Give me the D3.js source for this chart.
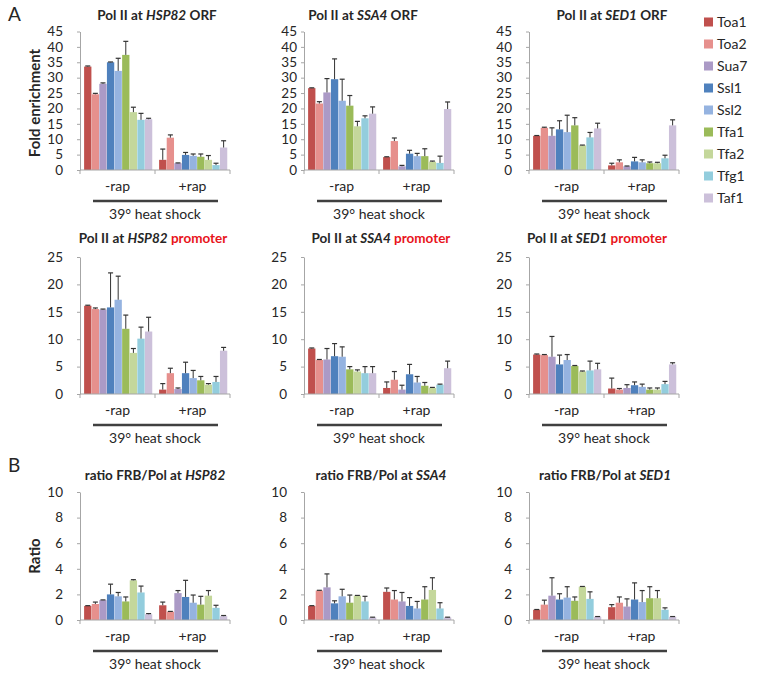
<!doctype html>
<html lang="en">
<head>
<meta charset="utf-8">
<script src="https://d3js.org/d3.v7.min.js"></script>
<style>
    html, body { margin: 0; padding: 0; background: #fff; }
    svg text { font-family: Lato, "Open Sans", sans-serif; fill: #262626; }
    .tick text { font-size: 13.5px; }
    .axis path, .axis line { stroke: #a6a6a6; }
</style>
</head>
<body>
<svg id="svg" width="773" height="677"></svg>
<script>
    var series = ["Toa1", "Toa2", "Sua7", "Ssl1", "Ssl2", "Tfa1", "Tfa2", "Tfg1", "Taf1"];
    var colors = ["#c0504d", "#e6908d", "#ab9ac6", "#4f81bd", "#95b3e0", "#9bbb59", "#c4d79b", "#93cddd", "#ccc0da"];
    var groups = ["-rap", "+rap"];

    // Pol II at ORF, fold enrichment [-rap, +rap]
    var hsp82Orf = [[33.6, 24.6, 28.0, 35.0, 32.2, 37.4, 18.8, 16.3, 16.5], [3.3, 10.5, 2.2, 4.9, 4.6, 4.3, 3.3, 1.6, 7.3]];
    var hsp82OrfErr = [[0.2, 0.3, 0.3, 0.1, 4.1, 4.4, 1.6, 2.1, 0.3], [3.5, 0.9, 0.1, 0.8, 0.6, 0.9, 1.4, 0.6, 2.2]];
    var ssa4Orf = [[26.6, 21.6, 25.2, 29.5, 22.5, 20.9, 14.2, 16.8, 18.3], [4.2, 9.4, 1.2, 5.3, 4.5, 4.5, 2.7, 2.3, 19.8]];
    var ssa4OrfErr = [[0.1, 0.6, 4.5, 6.6, 7.0, 3.3, 1.6, 0.8, 2.2], [0.1, 1.0, 0.3, 1.1, 0.9, 2.4, 0.2, 2.2, 2.3]];
    var sed1Orf = [[11.1, 13.7, 11.1, 13.2, 12.3, 14.5, 8.0, 10.6, 13.5], [1.5, 2.5, 1.2, 2.8, 2.5, 2.2, 2.2, 3.8, 14.5]];
    var sed1OrfErr = [[0.1, 0.2, 2.6, 2.8, 5.5, 2.5, 0.1, 1.6, 1.7], [0.7, 0.8, 0.1, 1.3, 0.8, 0.4, 0.3, 1.0, 1.8]];

    // Pol II at promoter
    var hsp82Pro = [[16.1, 15.5, 15.4, 15.8, 17.2, 11.9, 7.5, 10.1, 11.4], [0.8, 3.8, 0.9, 3.8, 2.9, 2.5, 1.7, 2.2, 7.9]];
    var hsp82ProErr = [[0.1, 0.2, 0.1, 6.3, 4.3, 2.5, 0.8, 2.1, 2.6], [1.1, 0.9, 0.2, 2.0, 1.4, 0.7, 0.2, 1.0, 0.6]];
    var ssa4Pro = [[8.3, 6.2, 6.3, 6.9, 6.8, 4.5, 4.1, 3.8, 3.8], [1.1, 2.6, 0.8, 3.6, 2.1, 1.5, 1.1, 1.7, 4.7]];
    var ssa4ProErr = [[0.1, 0.1, 2.0, 2.3, 1.8, 0.5, 0.3, 1.2, 1.2], [1.1, 1.5, 0.8, 1.8, 1.1, 0.6, 0.1, 0.1, 1.3]];
    var sed1Pro = [[7.2, 7.1, 6.8, 5.4, 6.2, 5.1, 4.1, 4.3, 4.5], [1.0, 0.8, 1.1, 1.6, 1.3, 0.8, 0.8, 1.8, 5.4]];
    var sed1ProErr = [[0.1, 0.1, 3.7, 1.7, 1.0, 0.1, 0.1, 1.7, 1.1], [1.9, 0.2, 0.6, 0.6, 0.5, 0.3, 0.3, 0.5, 0.3]];

    // ratio FRB/Pol
    var hsp82Ratio = [[1.1, 1.25, 1.55, 2.0, 1.85, 1.45, 3.1, 2.15, 0.45], [1.15, 0.65, 2.1, 1.8, 1.35, 1.2, 1.9, 0.95, 0.3]];
    var hsp82RatioErr = [[0.02, 0.15, 0.02, 0.8, 0.3, 0.35, 0.05, 0.5, 0.05], [0.25, 0.02, 0.2, 1.3, 0.6, 0.65, 0.4, 0.2, 0.05]];
    var ssa4Ratio = [[1.1, 2.3, 2.55, 1.3, 1.85, 1.35, 1.9, 1.45, 0.2], [2.2, 1.6, 1.45, 1.1, 0.9, 1.6, 2.35, 0.9, 0.2]];
    var ssa4RatioErr = [[0.02, 0.02, 1.05, 0.2, 0.55, 0.6, 0.02, 0.4, 0.02], [0.3, 0.7, 0.7, 0.65, 0.55, 1.0, 0.95, 0.45, 0.02]];
    var sed1Ratio = [[0.8, 1.2, 1.9, 1.6, 1.75, 1.5, 2.6, 1.65, 0.25], [1.0, 1.35, 1.05, 1.6, 1.4, 1.7, 1.7, 0.8, 0.25]];
    var sed1RatioErr = [[0.02, 0.35, 1.4, 0.45, 0.85, 0.3, 0.02, 0.55, 0.02], [0.2, 0.45, 0.6, 1.3, 0.9, 0.9, 0.6, 0.15, 0.02]];

    var panels = [
        {pre: "Pol II at ", gene: "HSP82", post: " ORF", vals: hsp82Orf, errs: hsp82OrfErr, max: 45, step: 5, x0: 80, zero: 170, top: 31.5, ty: 20, tx: 157, pad: 14},
        {pre: "Pol II at ", gene: "SSA4", post: " ORF", vals: ssa4Orf, errs: ssa4OrfErr, max: 45, step: 5, x0: 304, zero: 170, top: 31.5, ty: 20, tx: 363, pad: 4},
        {pre: "Pol II at ", gene: "SED1", post: " ORF", vals: sed1Orf, errs: sed1OrfErr, max: 45, step: 5, x0: 529, zero: 170, top: 31.5, ty: 20, tx: 612, pad: 14},
        {pre: "Pol II at ", gene: "HSP82", red: " promoter", vals: hsp82Pro, errs: hsp82ProErr, max: 25, step: 5, x0: 80, zero: 394, top: 257, ty: 243, tx: 153, pad: 14},
        {pre: "Pol II at ", gene: "SSA4", red: " promoter", vals: ssa4Pro, errs: ssa4ProErr, max: 25, step: 5, x0: 304, zero: 394, top: 257, ty: 243, tx: 381, pad: 14},
        {pre: "Pol II at ", gene: "SED1", red: " promoter", vals: sed1Pro, errs: sed1ProErr, max: 25, step: 5, x0: 529, zero: 394, top: 257, ty: 243, tx: 597, pad: 14},
        {pre: "ratio FRB/Pol at ", gene: "HSP82", vals: hsp82Ratio, errs: hsp82RatioErr, max: 10, step: 2, x0: 80, zero: 620, top: 492, ty: 480, tx: 155, pad: 14},
        {pre: "ratio FRB/Pol at ", gene: "SSA4", vals: ssa4Ratio, errs: ssa4RatioErr, max: 10, step: 2, x0: 304, zero: 620, top: 492, ty: 480, tx: 381, pad: 14},
        {pre: "ratio FRB/Pol at ", gene: "SED1", vals: sed1Ratio, errs: sed1RatioErr, max: 10, step: 2, x0: 529, zero: 620, top: 492, ty: 480, tx: 605, pad: 14}
    ];

    var svg = d3.select("#svg");
    var plotWidth = 150;

    var drawPanel = function (p) {
        var g = svg.append("g");
        var y = d3.scaleLinear().domain([0, p.max]).range([p.zero, p.top]);
        var gx = d3.scaleBand().domain(groups).range([p.x0, p.x0 + plotWidth]);
        var bx = d3.scaleBand().domain(series).range([0, gx.bandwidth()])
            .paddingInner(0.04).paddingOuter(0.45).align(0.6);

        // y axis
        g.append("g")
            .attr("class", "axis")
            .attr("transform", "translate(" + p.x0 + ",0)")
            .call(d3.axisLeft(y).tickValues(d3.range(0, p.max + 0.1, p.step))
                .tickSize(3).tickSizeOuter(0).tickPadding(p.pad));

        // bars
        groups.forEach(function (grp, gi) {
            var gg = g.append("g").attr("transform", "translate(" + gx(grp) + ",0)");
            gg.selectAll("rect")
                .data(p.vals[gi])
                .enter().append("rect")
                .attr("x", function (d, i) { return bx(series[i]); })
                .attr("y", function (d) { return y(d); })
                .attr("width", bx.bandwidth())
                .attr("height", function (d) { return y(0) - y(d); })
                .attr("fill", function (d, i) { return colors[i]; });

            // error bars, upper only
            p.errs[gi].forEach(function (e, i) {
                var cx = bx(series[i]) + bx.bandwidth() / 2;
                var v = p.vals[gi][i];
                gg.append("line")
                    .attr("x1", cx).attr("x2", cx)
                    .attr("y1", y(v)).attr("y2", y(v + e))
                    .attr("stroke", "#333").attr("stroke-width", 1);
                gg.append("line")
                    .attr("x1", cx - 2.5).attr("x2", cx + 2.5)
                    .attr("y1", y(v + e)).attr("y2", y(v + e))
                    .attr("stroke", "#333").attr("stroke-width", 1.2);
            });
        });

        // x axis with ticks between groups
        var xa = g.append("g").attr("class", "axis");
        xa.append("line")
            .attr("x1", p.x0).attr("x2", p.x0 + plotWidth)
            .attr("y1", y(0)).attr("y2", y(0));
        [p.x0, gx("+rap"), p.x0 + plotWidth].forEach(function (t) {
            xa.append("line").attr("x1", t).attr("x2", t)
                .attr("y1", y(0)).attr("y2", y(0) + 4);
        });

        groups.forEach(function (grp) {
            g.append("text")
                .attr("x", gx(grp) + gx.bandwidth() / 2)
                .attr("y", y(0) + 21)
                .attr("text-anchor", "middle")
                .style("font-size", "14px")
                .text(grp);
        });

        g.append("line")
            .attr("x1", p.x0 + 13).attr("x2", p.x0 + 138)
            .attr("y1", y(0) + 31).attr("y2", y(0) + 31)
            .attr("stroke", "#404040").attr("stroke-width", 2.5);

        g.append("text")
            .attr("x", p.x0 + plotWidth / 2)
            .attr("y", y(0) + 49)
            .attr("text-anchor", "middle")
            .style("font-size", "14px")
            .text("39\u00b0 heat shock");

        // title
        var t = g.append("text")
            .attr("x", p.tx).attr("y", p.ty)
            .attr("text-anchor", "middle")
            .style("font-size", "13.5px")
            .style("font-weight", "bold");
        t.append("tspan").text(p.pre);
        t.append("tspan").style("font-style", "italic").text(p.gene);
        if (p.post) t.append("tspan").text(p.post);
        if (p.red) t.append("tspan").style("fill", "#e8141b").text(p.red);
    };

    panels.forEach(drawPanel);

    // y labels
    svg.append("text")
        .attr("transform", "translate(40,103) rotate(-90)")
        .attr("text-anchor", "middle")
        .style("font-size", "15px").style("font-weight", "bold")
        .text("Fold enrichment");
    svg.append("text")
        .attr("transform", "translate(40,556) rotate(-90)")
        .attr("text-anchor", "middle")
        .style("font-size", "15px").style("font-weight", "bold")
        .text("Ratio");

    // panel letters
    svg.append("text").attr("x", 8).attr("y", 21).style("font-size", "19px").text("A");
    svg.append("text").attr("x", 8).attr("y", 472).style("font-size", "19px").text("B");

    // legend
    var legend = svg.append("g").attr("transform", "translate(704,0)");
    series.forEach(function (s, i) {
        var cy = 22 + i * 22;
        legend.append("rect")
            .attr("x", 0).attr("y", cy - 4.5)
            .attr("width", 9).attr("height", 9)
            .attr("fill", colors[i]);
        legend.append("text")
            .attr("x", 13).attr("y", cy + 5)
            .style("font-size", "14px")
            .text(s);
    });
</script>
</body>
</html>
